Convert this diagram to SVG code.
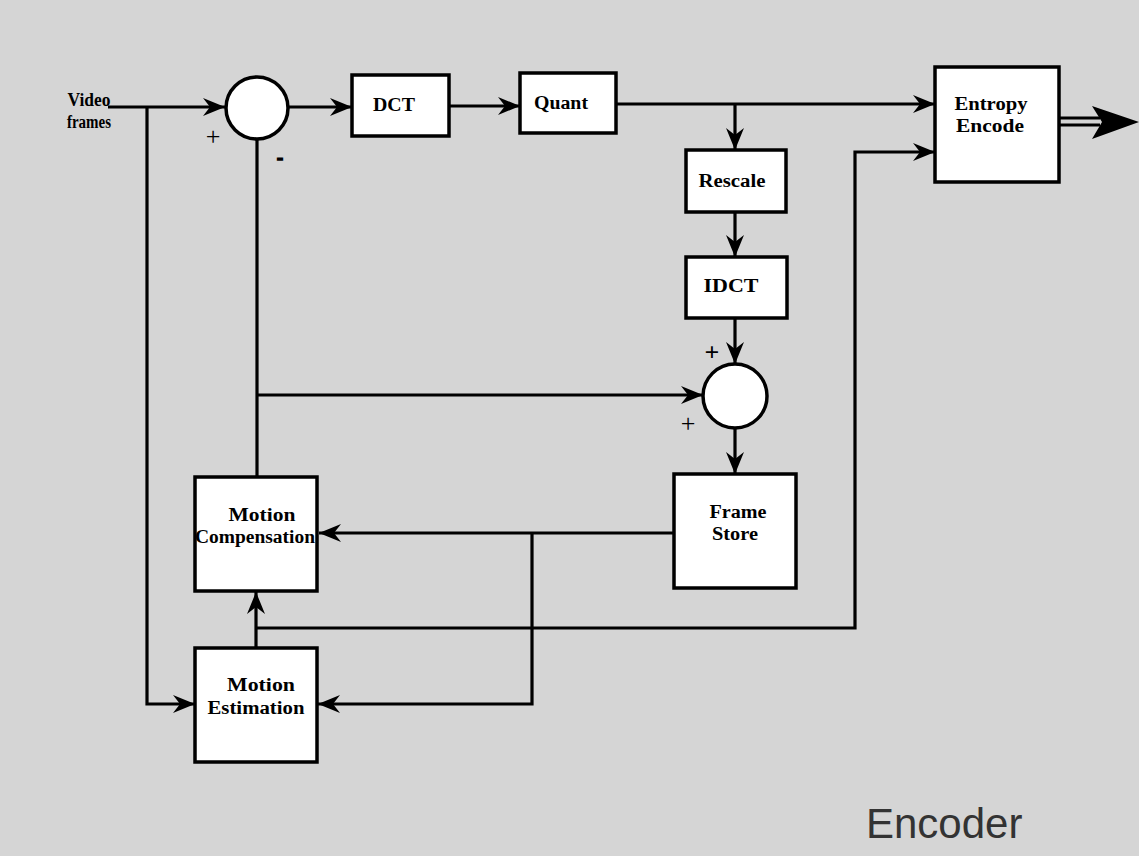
<svg xmlns="http://www.w3.org/2000/svg" width="1139" height="856" viewBox="0 0 1139 856">
<style>
.bg{fill:#d5d5d5}
.box{fill:#ffffff;stroke:#000;stroke-width:3.5}
.ln{fill:none;stroke:#000;stroke-width:3.2}
.lbl{font-family:"Liberation Serif","Times New Roman",serif;font-weight:bold;font-size:18px;fill:#000;text-anchor:middle}
.sign{font-family:"Liberation Serif","Times New Roman",serif;font-size:26px;fill:#000;text-anchor:middle}
.big{font-family:"Liberation Sans",Arial,sans-serif;font-size:42px;fill:#333}
</style>
<defs>
<marker id="ah" markerUnits="userSpaceOnUse" markerWidth="24" markerHeight="20" refX="22" refY="9" orient="auto">
<path d="M0,0 L22,9 L0,18 L7,9 z" fill="#000"/>
</marker>
</defs>
<rect class="bg" x="0" y="0" width="1139" height="856"/>
<g id="connectors">
<path class="ln" d="M108,107 H225" marker-end="url(#ah)"/>
<path class="ln" d="M147,107 V704 H195" marker-end="url(#ah)"/>
<path class="ln" d="M288,107 H352" marker-end="url(#ah)"/>
<path class="ln" d="M449,106 H520" marker-end="url(#ah)"/>
<path class="ln" d="M616,104 H935" marker-end="url(#ah)"/>
<path class="ln" d="M735,104 V150" marker-end="url(#ah)"/>
<path class="ln" d="M735,212 V257" marker-end="url(#ah)"/>
<path class="ln" d="M735,318 V364" marker-end="url(#ah)"/>
<path class="ln" d="M735,428 V474" marker-end="url(#ah)"/>
<path class="ln" d="M257,477 V139"/>
<path class="ln" d="M257,395 H703" marker-end="url(#ah)"/>
<path class="ln" d="M674,533 H319" marker-end="url(#ah)"/>
<path class="ln" d="M532,533 V704 H318" marker-end="url(#ah)"/>
<path class="ln" d="M256,648 V592" marker-end="url(#ah)"/>
<path class="ln" d="M256,628 H855 V152 H935" marker-end="url(#ah)"/>
<path class="ln" d="M1059,118 H1100 M1059,125 H1100"/>
<path d="M1092,106 L1139,122 L1092,139 L1102,122 z" fill="#000"/>
</g>
<g id="input-label">
<text class="lbl" x="89" y="106" textLength="43" lengthAdjust="spacingAndGlyphs">Video</text>
<text class="lbl" x="89" y="128" textLength="44" lengthAdjust="spacingAndGlyphs">frames</text>
</g>
<g id="sum1">
<circle class="box" cx="257" cy="108" r="31"/>
<text class="sign" x="213" y="145">+</text>
<text class="lbl" x="280" y="164" font-size="34" stroke="#000" stroke-width="1.6">-</text>
</g>
<g id="dct">
<rect class="box" x="352" y="75" width="97" height="61"/>
<text class="lbl" x="394" y="111" textLength="42" lengthAdjust="spacingAndGlyphs">DCT</text>
</g>
<g id="quant">
<rect class="box" x="520" y="73" width="96" height="60"/>
<text class="lbl" x="561" y="109" textLength="54" lengthAdjust="spacingAndGlyphs">Quant</text>
</g>
<g id="entropy">
<rect class="box" x="935" y="67" width="124" height="115"/>
<text class="lbl" x="991" y="110" textLength="73" lengthAdjust="spacingAndGlyphs">Entropy</text>
<text class="lbl" x="990" y="132" textLength="68" lengthAdjust="spacingAndGlyphs">Encode</text>
</g>
<g id="rescale">
<rect class="box" x="686" y="150" width="100" height="62"/>
<text class="lbl" x="732" y="187" textLength="67" lengthAdjust="spacingAndGlyphs">Rescale</text>
</g>
<g id="idct">
<rect class="box" x="686" y="257" width="101" height="61"/>
<text class="lbl" x="731" y="292" textLength="55" lengthAdjust="spacingAndGlyphs">IDCT</text>
</g>
<g id="sum2">
<circle class="box" cx="735" cy="396" r="32"/>
<text class="sign" x="712" y="361" font-weight="bold">+</text>
<text class="sign" x="688" y="432">+</text>
</g>
<g id="framestore">
<rect class="box" x="674" y="474" width="122" height="114"/>
<text class="lbl" x="738" y="518" textLength="57" lengthAdjust="spacingAndGlyphs">Frame</text>
<text class="lbl" x="735" y="540" textLength="46" lengthAdjust="spacingAndGlyphs">Store</text>
</g>
<g id="motion-compensation">
<rect class="box" x="195" y="477" width="122" height="114"/>
<text class="lbl" x="262" y="521" textLength="67" lengthAdjust="spacingAndGlyphs">Motion</text>
<text class="lbl" x="255" y="543" textLength="120" lengthAdjust="spacingAndGlyphs">Compensation</text>
</g>
<g id="motion-estimation">
<rect class="box" x="195" y="648" width="122" height="114"/>
<text class="lbl" x="261" y="691" textLength="68" lengthAdjust="spacingAndGlyphs">Motion</text>
<text class="lbl" x="256" y="714" textLength="97" lengthAdjust="spacingAndGlyphs">Estimation</text>
</g>
<g id="title">
<text class="big" x="866" y="838">Encoder</text>
</g>
</svg>
